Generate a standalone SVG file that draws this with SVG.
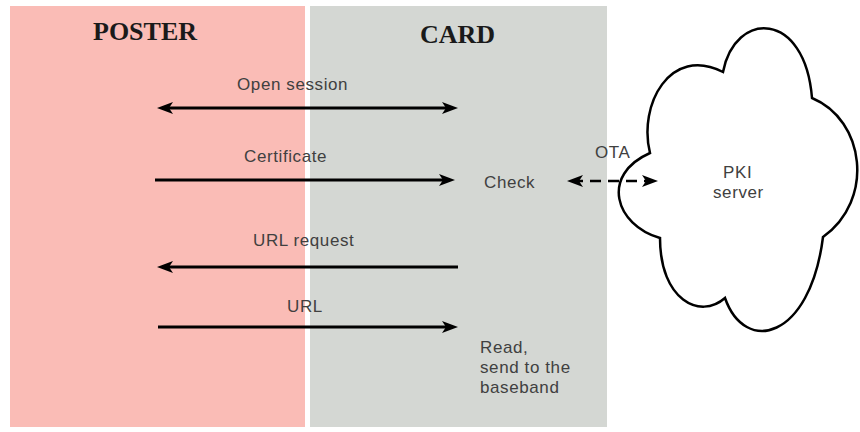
<svg xmlns="http://www.w3.org/2000/svg" width="860" height="432" viewBox="0 0 860 432">
<style>
.title{font-family:"Liberation Serif","Times New Roman",serif;font-weight:bold;font-size:26px;fill:#1a1a1a}
.lbl{font-family:"Liberation Sans",Arial,sans-serif;font-size:17px;letter-spacing:0.6px;fill:#404040}
.msg{stroke:#000;stroke-width:3;fill:none}
.ota{stroke:#000;stroke-width:2.5;fill:none;stroke-dasharray:11 7}
.cloud{fill:#fff;stroke:#000;stroke-width:2.5}
</style>
<defs>
<marker id="arr" viewBox="0 0 16 12" refX="11" refY="6" markerWidth="16" markerHeight="12" markerUnits="userSpaceOnUse" orient="auto-start-reverse">
<path d="M0,0 L16,6 L0,12 L4,6 Z" fill="#000"/>
</marker>
</defs>
<rect width="860" height="432" fill="#fff"/>
<g id="poster">
<rect x="10" y="6" width="295" height="421" fill="#fabcb6"/>
<text class="title" x="93" y="40">POSTER</text>
</g>
<g id="card">
<rect x="310" y="6" width="297" height="421" fill="#d4d7d3"/>
<text class="title" x="420" y="43">CARD</text>
<text class="lbl" x="484" y="188">Check</text>
<text class="lbl" x="480" y="353">Read,</text>
<text class="lbl" x="480" y="373">send to the</text>
<text class="lbl" x="480" y="393">baseband</text>
</g>
<g id="pki">
<path class="cloud" d="M650,153 C638,105 670,45 723,72 C735,10 805,10 812,98 C865,120 875,200 823,237 C810,340 745,355 725,298 C700,320 660,300 660,238 C615,225 600,175 650,153 Z"/>
<text class="lbl" x="723" y="178">PKI</text>
<text class="lbl" x="713" y="198">server</text>
</g>
<g id="connectors">
<line class="msg" x1="162" y1="108" x2="453" y2="108" marker-start="url(#arr)" marker-end="url(#arr)"/>
<text class="lbl" x="237" y="90">Open session</text>
<line class="msg" x1="155" y1="180" x2="450" y2="180" marker-end="url(#arr)"/>
<text class="lbl" x="244" y="162">Certificate</text>
<line class="msg" x1="458" y1="267" x2="162" y2="267" marker-end="url(#arr)"/>
<text class="lbl" x="253" y="246">URL request</text>
<line class="msg" x1="158" y1="327" x2="453" y2="327" marker-end="url(#arr)"/>
<text class="lbl" x="287" y="312">URL</text>
<line class="ota" x1="572" y1="181" x2="653" y2="181" marker-start="url(#arr)" marker-end="url(#arr)"/>
<text class="lbl" x="595" y="158">OTA</text>
</g>
</svg>
